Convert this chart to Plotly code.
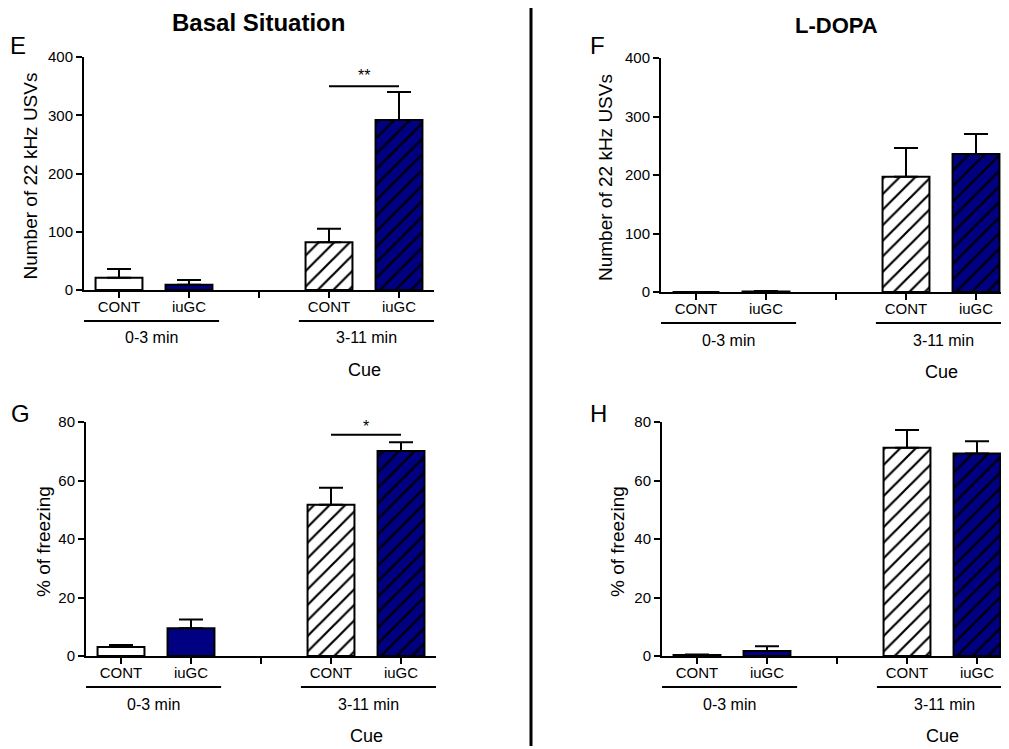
import plotly.graph_objects as go

# ---------------- data ----------------
groups = ["CONT", "iuGC", "CONT", "iuGC"]
periods = ["0-3 min", "3-11 min"]

usv_basal_mean = [21, 9, 82, 292]
usv_basal_sem = [15, 8, 23, 48]
usv_ldopa_mean = [0, 1, 197, 236]
usv_ldopa_sem = [0, 0.5, 49, 34]
frz_basal_mean = [3.1, 9.5, 51.7, 70.1]
frz_basal_sem = [0.7, 3.0, 5.8, 3.0]
frz_ldopa_mean = [0.3, 1.7, 71.2, 69.2]
frz_ldopa_sem = [0.2, 1.6, 6.1, 4.2]

# ---------------- style ----------------
W, H = 1009, 749
OFF = 8  # page body margin compensation
NAVY = "#000080"
FONT = "Liberation Sans, Arial, sans-serif"
bar_colors = ["white", NAVY, "white", NAVY]
bar_patterns = ["", "", "/", "/"]
slots = [0.5, 1.5, 3.5, 4.5]
tickvals = [0.5, 1.5, 2.5, 3.5, 4.5]
ticktext = ["CONT", "iuGC", "", "CONT", "iuGC"]


def px_x(p):
    return (p - OFF) / W


def px_y(p):
    return 1 - (p - OFF) / H


fig = go.Figure()

panels = [
    dict(m=usv_basal_mean, s=usv_basal_sem, xl=84, xr=434, yt=57, yb=290, ymax=400, dt=100,
         title="Number of 22 kHz USVs", letter="E", lx=18, ly=46, tx=30),
    dict(m=usv_ldopa_mean, s=usv_ldopa_sem, xl=661, xr=1011, yt=58, yb=292, ymax=400, dt=100,
         title="Number of 22 kHz USVs", letter="F", lx=597, ly=46, tx=605),
    dict(m=frz_basal_mean, s=frz_basal_sem, xl=86, xr=436, yt=422, yb=656, ymax=80, dt=20,
         title="% of freezing", letter="G", lx=20, ly=414, tx=43),
    dict(m=frz_ldopa_mean, s=frz_ldopa_sem, xl=662, xr=1012, yt=422, yb=656, ymax=80, dt=20,
         title="% of freezing", letter="H", lx=598, ly=414, tx=617),
]

annotations = []
shapes = []


def ann(text, x, y, xref="paper", yref="paper", size=15, angle=0):
    return dict(text=text, x=x, y=y, xref=xref, yref=yref, showarrow=False,
                xanchor="center", yanchor="middle", textangle=angle,
                font=dict(family=FONT, size=size, color="black"))


for i, p in enumerate(panels):
    k = "" if i == 0 else str(i + 1)
    xa, ya = "x" + k, "y" + k
    for j in range(4):
        marker = dict(color=bar_colors[j], line=dict(color="black", width=2))
        if bar_patterns[j]:
            marker["pattern"] = dict(shape=bar_patterns[j], fgcolor="black", bgcolor=bar_colors[j],
                                     fgopacity=1, fillmode="replace", size=11, solidity=0.2)
        fig.add_trace(go.Bar(
            x=[slots[j]], y=[p["m"][j]], width=0.67, name=groups[j],
            xaxis=xa, yaxis=ya, marker=marker,
            error_y=dict(type="data", symmetric=False, array=[p["s"][j]], arrayminus=[0],
                         color="black", thickness=2, width=12),
            showlegend=False,
        ))
    xr_px = min(p["xr"], W + OFF)
    xmax = (xr_px - p["xl"]) / 70.0
    fig.layout["xaxis" + k] = dict(
        domain=[px_x(p["xl"]), px_x(xr_px)], range=[0, xmax], anchor=ya,
        tickmode="array", tickvals=tickvals, ticktext=ticktext, automargin=False,
        showline=True, linecolor="black", linewidth=2, ticks="outside", ticklen=6,
        tickwidth=2, tickcolor="black", showgrid=False, zeroline=False, ticklabelstandoff=-4,
        tickfont=dict(family=FONT, size=15, color="black"), fixedrange=True)
    fig.layout["yaxis" + k] = dict(
        domain=[px_y(p["yb"]), px_y(p["yt"])], range=[0, p["ymax"]], anchor=xa,
        dtick=p["dt"], showline=True, linecolor="black", linewidth=2, automargin=False,
        ticks="outside", ticklen=6, tickwidth=2, tickcolor="black",
        showgrid=False, zeroline=False, fixedrange=True,
        tickfont=dict(family=FONT, size=15, color="black"))
    annotations.append(ann(p["letter"], px_x(p["lx"]), px_y(p["ly"]), size=24))
    annotations.append(ann(p["title"], px_x(p["tx"]), px_y((p["yt"] + p["yb"]) / 2 + 3), size=19, angle=-90))
    yb = p["yb"]
    for (x0, x1), lab in zip([(0.0, 1.93), (3.07, 5.0)], periods):
        shapes.append(dict(type="line", xref=xa, yref="paper", x0=x0, x1=x1,
                           y0=px_y(yb + 31), y1=px_y(yb + 31), line=dict(color="black", width=2)))
        annotations.append(ann(lab, (x0 + x1) / 2, px_y(yb + 48), xref=xa, size=16))
    annotations.append(ann("Cue", 4.0, px_y(yb + 80), xref=xa, size=18))

# significance markers
shapes.append(dict(type="line", xref="x", yref="y", x0=3.5, x1=4.5, y0=350, y1=350,
                   line=dict(color="black", width=2)))
annotations.append(ann("**", 4.0, 368, xref="x", yref="y", size=16))
shapes.append(dict(type="line", xref="x3", yref="y3", x0=3.5, x1=4.5, y0=75.6, y1=75.6,
                   line=dict(color="black", width=2)))
annotations.append(ann("*", 4.0, 78.5, xref="x3", yref="y3", size=16))

# titles
annotations.append(ann("<b>Basal Situation</b>", px_x(258), px_y(22), size=24))
annotations.append(ann("<b>L-DOPA</b>", px_x(836), px_y(25), size=22))

# divider
shapes.append(dict(type="line", xref="paper", yref="paper", x0=px_x(531), x1=px_x(531),
                   y0=1.0, y1=px_y(746), line=dict(color="black", width=3)))

fig.update_layout(
    width=W, height=H, margin=dict(l=0, r=0, t=0, b=0, pad=0), autosize=False,
    paper_bgcolor="white", plot_bgcolor="white",
    annotations=annotations, shapes=shapes, barmode="overlay",
    font=dict(family=FONT, color="black"),
)

fig.write_html("out.html")
